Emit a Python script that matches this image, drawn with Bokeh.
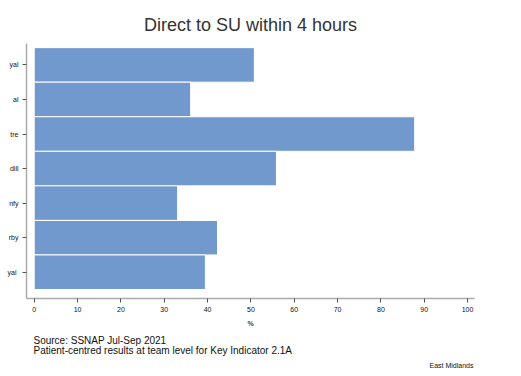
from bokeh.plotting import figure
from bokeh.models import Range1d, Title, FixedTicker, ColumnDataSource
from bokeh.embed import file_html
from bokeh.resources import INLINE

teams = ["yal", "al", "tre", "dill", "nfy", "rby", "yal "]
values = [50.8, 36.1, 87.8, 55.9, 33.1, 42.3, 39.5]
x_ticks = [0, 10, 20, 30, 40, 50, 60, 70, 80, 90, 100]

n = len(teams)
pos = [n - i for i in range(n)]
src = ColumnDataSource(dict(y=pos, right=values, name=teams))

W, H = 505, 368
p = figure(width=W, height=H, output_backend="svg", toolbar_location=None,
           x_range=Range1d(-1.78, 101.6), y_range=Range1d(0.24, n + 0.62),
           min_border_left=26, min_border_right=W - 474, min_border_top=43,
           min_border_bottom=40)
p.hbar(y="y", left=0, right="right", height=1, source=src,
       fill_color="#7299CD", line_color="white", line_width=1)

p.title.text = "Direct to SU within 4 hours"
p.title.align = "center"
p.title.vertical_align = "top"
p.title.text_font = "Liberation Sans"
p.title.text_font_size = "18px"
p.title.text_font_style = "normal"
p.title.text_color = "#333333"
p.title.text_line_height = 1.0
p.title.offset = 0
p.title.standoff = 14

p.outline_line_color = None
p.grid.grid_line_color = None

p.xaxis.ticker = FixedTicker(ticks=x_ticks)
p.xaxis.axis_label = "%"
p.yaxis.ticker = FixedTicker(ticks=pos)
p.yaxis.major_label_overrides = {pv: t for pv, t in zip(pos, teams)}
for ax in (p.xaxis[0], p.yaxis[0]):
    ax.axis_line_color = "#aaaaaa"
    ax.axis_line_width = 1.5
    ax.major_tick_line_color = "#555555"
    ax.major_tick_in = 0
    ax.major_tick_out = 4
    ax.minor_tick_line_color = None
    ax.major_label_text_font = "Liberation Sans"
    ax.major_label_text_font_size = "7px"
    ax.major_label_text_color = "#111111"
    ax.major_label_standoff = 4
p.xaxis.axis_label_text_font = "Liberation Sans"
p.xaxis.axis_label_text_font_size = "7px"
p.xaxis.axis_label_text_font_style = "bold"
p.xaxis.axis_label_standoff = 5

def foot(text, size, align, standoff, offset, lh):
    t = Title(text=text, align=align, text_font="Liberation Sans",
              text_font_size=size, text_font_style="normal",
              text_color="#111111", standoff=standoff, offset=offset,
              text_line_height=lh)
    p.add_layout(t, "below")

foot("Source: SSNAP Jul-Sep 2021\nPatient-centred results at team level for Key Indicator 2.1A",
     "10px", "left", 7, 7, 0.9)
foot("East Midlands", "7px", "right", 0, 1, 1.0)

open("out.html", "w").write(file_html(p, INLINE))
